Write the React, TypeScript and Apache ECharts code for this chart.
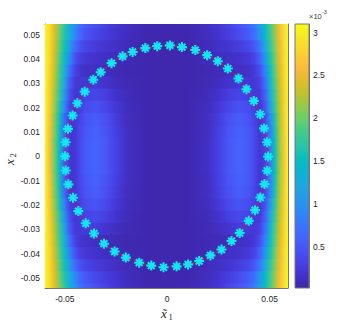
import React, { useEffect, useRef } from "react";
import * as echarts from "echarts";

// ---- data (field values in units of 1e-3) ----
const X_RANGE = [-0.0597, 0.059];
const Y_RANGE = [-0.0541, 0.0544];
const X_TICKS = [-0.05, 0, 0.05];
const Y_TICKS = [-0.05, -0.04, -0.03, -0.02, -0.01, 0, 0.01, 0.02, 0.03, 0.04, 0.05];
const CBAR_RANGE = [0.02, 3.1];
const CBAR_TICKS = [0.5, 1, 1.5, 2, 2.5, 3];

const X_SAMPLES = [
  -0.0597, -0.0575, -0.055, -0.0525, -0.05, -0.0475, -0.045, -0.0425, -0.04, -0.035, -0.03, -0.025, -0.02, -0.01, 0,
  0.01, 0.02, 0.025, 0.03, 0.035, 0.04, 0.0425, 0.045, 0.0475, 0.05, 0.0525, 0.055, 0.0575, 0.059,
];
const Y_ROWS = [
  0.055, 0.05, 0.045, 0.04, 0.035, 0.03, 0.025, 0.02, 0.015, 0.01, 0.005, 0,
  -0.005, -0.01, -0.015, -0.02, -0.025, -0.03, -0.035, -0.04, -0.045, -0.05, -0.055,
];
const FIELD = [
  [3.06, 2.86, 2.45, 2.04, 1.68, 1.32, 0.98, 0.72, 0.56, 0.42, 0.30, 0.21, 0.14, 0.06, 0.05, 0.06, 0.14, 0.22, 0.32, 0.46, 0.62, 0.80, 1.10, 1.46, 1.80, 2.18, 2.60, 2.95, 3.05],
  [3.07, 2.85, 2.42, 2.00, 1.62, 1.25, 0.90, 0.62, 0.48, 0.36, 0.26, 0.18, 0.12, 0.05, 0.05, 0.05, 0.12, 0.19, 0.28, 0.40, 0.54, 0.70, 1.00, 1.38, 1.75, 2.14, 2.57, 2.94, 3.05],
  [3.07, 2.82, 2.40, 1.95, 1.55, 1.08, 0.66, 0.44, 0.34, 0.25, 0.19, 0.14, 0.09, 0.05, 0.05, 0.05, 0.10, 0.15, 0.20, 0.27, 0.37, 0.50, 0.76, 1.20, 1.67, 2.08, 2.53, 2.92, 3.05],
  [3.08, 2.80, 2.35, 1.88, 1.45, 0.90, 0.45, 0.28, 0.22, 0.17, 0.13, 0.10, 0.07, 0.05, 0.04, 0.05, 0.08, 0.11, 0.14, 0.18, 0.24, 0.33, 0.56, 1.02, 1.58, 2.02, 2.50, 2.90, 3.06],
  [3.10, 2.78, 2.30, 1.82, 1.30, 0.68, 0.32, 0.20, 0.15, 0.12, 0.10, 0.08, 0.06, 0.05, 0.04, 0.05, 0.07, 0.09, 0.11, 0.13, 0.17, 0.24, 0.40, 0.82, 1.45, 1.95, 2.45, 2.88, 3.07],
  [3.10, 2.75, 2.25, 1.75, 1.15, 0.50, 0.24, 0.22, 0.22, 0.23, 0.18, 0.12, 0.08, 0.05, 0.04, 0.05, 0.08, 0.12, 0.18, 0.23, 0.22, 0.22, 0.30, 0.65, 1.32, 1.88, 2.40, 2.86, 3.07],
  [3.10, 2.72, 2.20, 1.68, 1.00, 0.40, 0.20, 0.24, 0.30, 0.35, 0.28, 0.17, 0.10, 0.05, 0.04, 0.05, 0.10, 0.17, 0.28, 0.35, 0.30, 0.24, 0.24, 0.52, 1.18, 1.80, 2.36, 2.84, 3.07],
  [3.10, 2.70, 2.15, 1.60, 0.85, 0.30, 0.20, 0.29, 0.39, 0.46, 0.36, 0.22, 0.12, 0.05, 0.04, 0.05, 0.12, 0.22, 0.36, 0.46, 0.39, 0.29, 0.21, 0.42, 1.05, 1.72, 2.30, 2.82, 3.07],
  [3.10, 2.65, 2.08, 1.50, 0.60, 0.22, 0.21, 0.34, 0.46, 0.55, 0.44, 0.26, 0.13, 0.05, 0.04, 0.05, 0.13, 0.26, 0.44, 0.55, 0.46, 0.34, 0.21, 0.33, 0.85, 1.62, 2.25, 2.80, 3.08],
  [3.10, 2.62, 2.05, 1.45, 0.55, 0.21, 0.22, 0.37, 0.50, 0.60, 0.48, 0.29, 0.14, 0.05, 0.04, 0.05, 0.14, 0.29, 0.48, 0.60, 0.50, 0.37, 0.22, 0.30, 0.78, 1.58, 2.22, 2.78, 3.08],
  [3.10, 2.60, 2.00, 1.42, 0.50, 0.21, 0.22, 0.38, 0.52, 0.62, 0.50, 0.30, 0.15, 0.05, 0.04, 0.05, 0.15, 0.30, 0.50, 0.62, 0.52, 0.38, 0.22, 0.28, 0.72, 1.55, 2.20, 2.76, 3.08],
  [3.10, 2.60, 2.00, 1.40, 0.46, 0.20, 0.22, 0.38, 0.52, 0.62, 0.50, 0.30, 0.15, 0.05, 0.04, 0.05, 0.15, 0.30, 0.50, 0.62, 0.52, 0.38, 0.22, 0.27, 0.70, 1.53, 2.18, 2.75, 3.08],
  [3.10, 2.60, 2.00, 1.41, 0.48, 0.20, 0.22, 0.38, 0.52, 0.62, 0.50, 0.30, 0.15, 0.05, 0.04, 0.05, 0.15, 0.30, 0.50, 0.62, 0.52, 0.38, 0.22, 0.27, 0.71, 1.54, 2.19, 2.75, 3.08],
  [3.10, 2.62, 2.04, 1.44, 0.53, 0.21, 0.22, 0.37, 0.50, 0.60, 0.48, 0.29, 0.14, 0.05, 0.04, 0.05, 0.14, 0.29, 0.48, 0.60, 0.50, 0.37, 0.22, 0.29, 0.76, 1.57, 2.21, 2.77, 3.08],
  [3.10, 2.64, 2.07, 1.49, 0.58, 0.22, 0.21, 0.35, 0.47, 0.56, 0.45, 0.27, 0.13, 0.05, 0.04, 0.05, 0.13, 0.27, 0.45, 0.56, 0.47, 0.35, 0.21, 0.32, 0.82, 1.61, 2.24, 2.79, 3.08],
  [3.10, 2.68, 2.13, 1.58, 0.80, 0.28, 0.20, 0.30, 0.41, 0.48, 0.38, 0.23, 0.12, 0.05, 0.04, 0.05, 0.12, 0.23, 0.38, 0.48, 0.41, 0.30, 0.21, 0.40, 1.00, 1.70, 2.29, 2.81, 3.07],
  [3.10, 2.71, 2.19, 1.66, 0.97, 0.38, 0.21, 0.25, 0.32, 0.37, 0.29, 0.18, 0.10, 0.05, 0.04, 0.05, 0.10, 0.18, 0.29, 0.37, 0.32, 0.25, 0.24, 0.50, 1.15, 1.78, 2.35, 2.84, 3.07],
  [3.10, 2.74, 2.24, 1.74, 1.13, 0.48, 0.24, 0.23, 0.24, 0.25, 0.19, 0.13, 0.08, 0.05, 0.04, 0.05, 0.08, 0.13, 0.19, 0.25, 0.24, 0.23, 0.29, 0.63, 1.30, 1.87, 2.40, 2.86, 3.07],
  [3.10, 2.77, 2.29, 1.81, 1.28, 0.66, 0.31, 0.20, 0.16, 0.13, 0.10, 0.08, 0.06, 0.05, 0.04, 0.05, 0.07, 0.09, 0.11, 0.14, 0.18, 0.24, 0.39, 0.80, 1.44, 1.94, 2.45, 2.88, 3.07],
  [3.08, 2.80, 2.34, 1.87, 1.44, 0.88, 0.45, 0.28, 0.22, 0.17, 0.13, 0.10, 0.07, 0.05, 0.04, 0.05, 0.08, 0.11, 0.14, 0.18, 0.24, 0.33, 0.55, 1.00, 1.57, 2.01, 2.50, 2.90, 3.06],
  [3.07, 2.82, 2.40, 1.95, 1.55, 1.07, 0.66, 0.44, 0.34, 0.25, 0.19, 0.14, 0.09, 0.05, 0.05, 0.05, 0.10, 0.15, 0.20, 0.27, 0.37, 0.50, 0.76, 1.19, 1.66, 2.08, 2.53, 2.92, 3.05],
  [3.07, 2.85, 2.43, 2.01, 1.63, 1.26, 0.92, 0.64, 0.50, 0.37, 0.27, 0.19, 0.12, 0.05, 0.05, 0.05, 0.12, 0.19, 0.28, 0.41, 0.55, 0.72, 1.02, 1.39, 1.76, 2.15, 2.58, 2.94, 3.05],
  [3.06, 2.87, 2.46, 2.05, 1.70, 1.34, 1.02, 0.74, 0.58, 0.44, 0.31, 0.22, 0.14, 0.06, 0.05, 0.06, 0.14, 0.22, 0.33, 0.47, 0.63, 0.82, 1.12, 1.47, 1.81, 2.19, 2.61, 2.95, 3.05],
];

const MARKER_X = [
  0.0013, 0.0072, 0.0137, 0.0195, 0.0247, 0.0296, 0.0348, 0.0387, 0.0423, 0.0454, 0.0473, 0.0488, 0.0493,
  0.0488, 0.0475, 0.0455, 0.0429, 0.0398, 0.0354, 0.0314, 0.0265, 0.0211, 0.0156, 0.0102, 0.0046,
  -0.0018, -0.0078, -0.0137, -0.0202, -0.0257, -0.0309, -0.0358, -0.0398, -0.0434, -0.046, -0.0483, -0.0496, -0.0499,
  -0.0496, -0.0485, -0.0462, -0.0439, -0.0403, -0.0361, -0.0325, -0.0272, -0.0218, -0.0169, -0.0107, -0.0049,
];
const MARKER_Y = [
  0.0456, 0.0449, 0.0437, 0.0416, 0.0391, 0.0361, 0.032, 0.0276, 0.0228, 0.0173, 0.0115, 0.0058, -0.0001,
  -0.0059, -0.0114, -0.0169, -0.0221, -0.0265, -0.0315, -0.0348, -0.0383, -0.0407, -0.043, -0.0444, -0.0452,
  -0.0456, -0.0449, -0.0437, -0.0416, -0.0391, -0.0359, -0.0317, -0.0275, -0.0225, -0.017, -0.0115, -0.0058, 0.0,
  0.0058, 0.0113, 0.0168, 0.0218, 0.0266, 0.0315, 0.0346, 0.0383, 0.0411, 0.0429, 0.0445, 0.0453,
];

// ---- styles ----
const PARULA_POS = [
  0, 0.048, 0.095, 0.143, 0.19, 0.238, 0.286, 0.333, 0.397, 0.444, 0.492, 0.54,
  0.587, 0.635, 0.683, 0.73, 0.778, 0.825, 0.857, 0.905, 0.952, 1,
];
const PARULA_RGB = [
  [62, 38, 168], [67, 50, 203], [71, 65, 229], [72, 82, 244], [69, 99, 253], [56, 117, 254],
  [46, 135, 247], [39, 150, 235], [28, 169, 223], [8, 181, 208], [11, 189, 189], [44, 196, 167],
  [63, 202, 142], [100, 205, 111], [143, 203, 78], [185, 196, 49], [220, 189, 41], [248, 186, 61],
  [254, 195, 56], [250, 214, 45], [245, 233, 36], [249, 251, 20],
];
const FONT = "'Liberation Sans', Arial, sans-serif";
const SERIF = "'Liberation Serif', 'DejaVu Serif', serif";
const AXIS_COLOR = "#777";
const TEXT_COLOR = "#262626";

function rgbStr(c: number[]): string {
  return `rgb(${c[0]},${c[1]},${c[2]})`;
}

function colorOf(v: number): string {
  let t = (v - CBAR_RANGE[0]) / (CBAR_RANGE[1] - CBAR_RANGE[0]);
  t = Math.max(0, Math.min(1, t));
  let k = 0;
  while (k < PARULA_POS.length - 2 && t > PARULA_POS[k + 1]) k++;
  const f = (t - PARULA_POS[k]) / (PARULA_POS[k + 1] - PARULA_POS[k]);
  const a = PARULA_RGB[k], b = PARULA_RGB[k + 1];
  return rgbStr(a.map((av, i) => Math.round(av + (b[i] - av) * f)));
}

function buildOption(): any {
  const xs0 = X_SAMPLES[0];
  const xs1 = X_SAMPLES[X_SAMPLES.length - 1];
  const halfRow = Math.abs(Y_ROWS[1] - Y_ROWS[0]) / 2;
  const ring = MARKER_X.map((x, i) => [x, MARKER_Y[i]]);
  const ringClosed = ring.concat([ring[0]]);

  const tickStyle = { show: true, inside: true, length: 3, lineStyle: { color: AXIS_COLOR, width: 0.8 } };
  const lineStyle = { show: true, onZero: false, lineStyle: { color: AXIS_COLOR, width: 1 } };

  return {
    animation: false,
    backgroundColor: "#fff",
    grid: [
      { left: 45, top: 24, width: 243, height: 264 },
      { left: 295, top: 24, width: 14, height: 264 },
    ],
    xAxis: [
      {
        gridIndex: 0, type: "value", min: X_RANGE[0], max: X_RANGE[1], position: "bottom",
        axisLine: lineStyle, splitLine: { show: false },
        axisTick: { ...tickStyle, customValues: X_TICKS },
        axisLabel: { customValues: X_TICKS, fontSize: 8.5, fontFamily: FONT, color: TEXT_COLOR, margin: 6 },
      },
      {
        gridIndex: 0, type: "value", min: X_RANGE[0], max: X_RANGE[1], position: "top",
        axisLine: lineStyle, splitLine: { show: false },
        axisTick: { ...tickStyle, customValues: X_TICKS },
        axisLabel: { show: false },
      },
      { gridIndex: 1, type: "value", min: 0, max: 1, show: false },
    ],
    yAxis: [
      {
        gridIndex: 0, type: "value", min: Y_RANGE[0], max: Y_RANGE[1], position: "left",
        axisLine: lineStyle, splitLine: { show: false },
        axisTick: { ...tickStyle, customValues: Y_TICKS },
        axisLabel: { customValues: Y_TICKS, fontSize: 8.5, fontFamily: FONT, color: TEXT_COLOR, margin: 5 },
      },
      {
        gridIndex: 0, type: "value", min: Y_RANGE[0], max: Y_RANGE[1], position: "right",
        axisLine: lineStyle, splitLine: { show: false },
        axisTick: { ...tickStyle, customValues: Y_TICKS },
        axisLabel: { show: false },
      },
      {
        gridIndex: 1, type: "value", min: CBAR_RANGE[0], max: CBAR_RANGE[1], position: "right",
        axisLine: lineStyle, splitLine: { show: false },
        axisTick: { show: true, inside: true, length: 2.5, customValues: CBAR_TICKS, lineStyle: { color: "#555", width: 0.8 } },
        axisLabel: { customValues: CBAR_TICKS, fontSize: 8.5, fontFamily: FONT, color: TEXT_COLOR, margin: 4 },
      },
    ],
    series: [
      {
        type: "custom", xAxisIndex: 0, yAxisIndex: 0, clip: true, silent: true, z: 1,
        data: Y_ROWS.map((y, i) => [xs0, y, i]),
        encode: { x: 0, y: 1 },
        renderItem: (_p: any, api: any) => {
          const i = api.value(2);
          const y = Y_ROWS[i];
          const p0 = api.coord([xs0, y + halfRow]);
          const p1 = api.coord([xs1, y - halfRow]);
          const stops = FIELD[i].map((v, j) => ({
            offset: (X_SAMPLES[j] - xs0) / (xs1 - xs0),
            color: colorOf(v),
          }));
          return {
            type: "rect",
            shape: { x: p0[0], y: p0[1] - 0.6, width: p1[0] - p0[0], height: p1[1] - p0[1] + 1.2 },
            style: { fill: new echarts.graphic.LinearGradient(0, 0, 1, 0, stops), stroke: null },
          };
        },
      },
      {
        type: "line", xAxisIndex: 0, yAxisIndex: 0, z: 3, silent: true,
        data: ringClosed, showSymbol: false, smooth: 0.3,
        lineStyle: { color: "#d8102c", width: 1.3, type: [3, 2] },
      },
      {
        type: "scatter", xAxisIndex: 0, yAxisIndex: 0, z: 4, silent: true,
        data: ring,
        symbol: "path://M5 0L5 10M0 5L10 5M1.6 1.6L8.4 8.4M1.6 8.4L8.4 1.6",
        symbolSize: 10,
        itemStyle: { color: "#12e6f2", borderColor: "#12e6f2", borderWidth: 2.1, opacity: 1 },
      },
      {
        type: "custom", xAxisIndex: 2, yAxisIndex: 2, silent: true, z: 1,
        data: [[0, CBAR_RANGE[0], CBAR_RANGE[1]]],
        encode: { x: 0, y: 1 },
        renderItem: (_p: any, api: any) => {
          const a = api.coord([0, api.value(1)]);
          const b = api.coord([1, api.value(2)]);
          const stops = PARULA_POS.map((pos, k) => ({ offset: pos, color: rgbStr(PARULA_RGB[k]) }));
          return {
            type: "rect",
            shape: { x: a[0], y: b[1], width: b[0] - a[0], height: a[1] - b[1] },
            style: { fill: new echarts.graphic.LinearGradient(0, 1, 0, 0, stops), stroke: AXIS_COLOR, lineWidth: 1 },
          };
        },
      },
    ],
    graphic: [
      {
        type: "group", left: 309, top: 9,
        children: [
          { type: "text", x: 0, y: 3, style: { text: "×10", fontSize: 7.5, fontFamily: FONT, fill: "#404040" } },
          { type: "text", x: 13, y: 0, style: { text: "-3", fontSize: 5.5, fontFamily: FONT, fill: "#404040" } },
        ],
      },
      {
        type: "group", x: 164, y: 313,
        children: [
          { type: "text", x: 0, y: 0, style: { text: "x\u0303", fontSize: 13, fontStyle: "italic", fontFamily: SERIF, fill: TEXT_COLOR, align: "center", verticalAlign: "middle" } },
          { type: "text", x: 4.5, y: 3.5, style: { text: "1", fontSize: 8.5, fontFamily: SERIF, fill: TEXT_COLOR, align: "left", verticalAlign: "middle" } },
        ],
      },
      {
        type: "group", x: 9, y: 162, rotation: Math.PI / 2,
        children: [
          { type: "text", x: 0, y: 0, style: { text: "x", fontSize: 13, fontStyle: "italic", fontFamily: SERIF, fill: TEXT_COLOR, align: "center", verticalAlign: "middle" } },
          { type: "text", x: 4.5, y: 3.5, style: { text: "2", fontSize: 8.5, fontFamily: SERIF, fill: TEXT_COLOR, align: "left", verticalAlign: "middle" } },
        ],
      },
    ],
  };
}

export default function App() {
  const ref = useRef<HTMLDivElement>(null);
  useEffect(() => {
    if (!ref.current) return;
    const chart = echarts.init(ref.current, null, { renderer: "svg" });
    chart.setOption(buildOption());
    return () => chart.dispose();
  }, []);
  return (
    <div
      ref={ref}
      style={{ position: "absolute", left: 0, top: 0, width: 358, height: 325, background: "#fff" }}
    />
  );
}
